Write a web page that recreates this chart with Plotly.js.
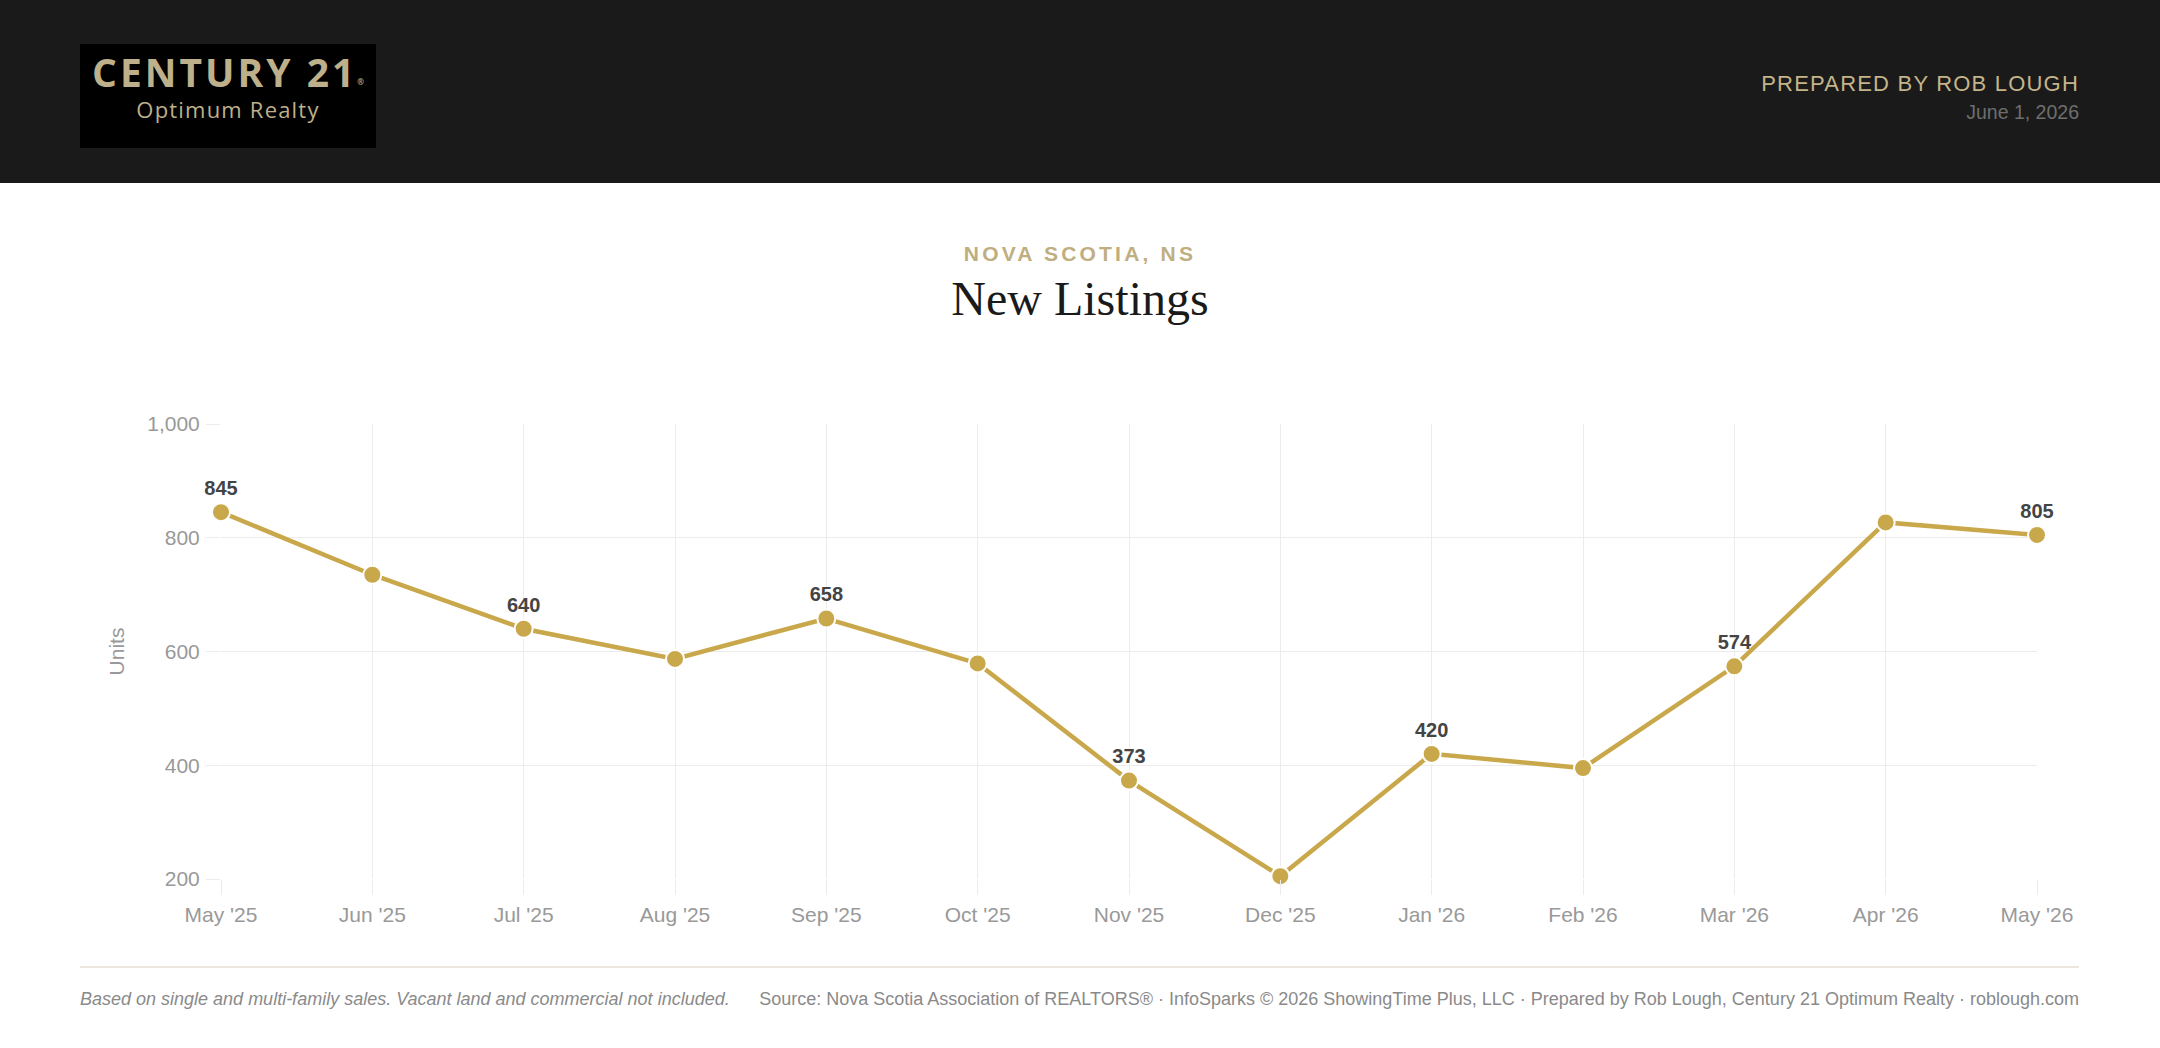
<!DOCTYPE html>
<html>
<head>
<meta charset="utf-8">
<script src="https://cdn.plot.ly/plotly-3.0.1.min.js"></script>
<style>
  html, body { margin: 0; padding: 0; width: 2160px; height: 1048px; overflow: hidden; background: #ffffff; font-family: "Liberation Sans", Arial, sans-serif; }
  #header { position: absolute; left: 0; top: 0; width: 2160px; height: 183px; background: #1a1a1a; }
  #logo { position: absolute; left: 80px; top: 44px; width: 296px; height: 104px; background: #000000; }
  #logo .c21 { position: absolute; left: 0; width: 296px; top: 3px; text-align: center; font-family: "Open Sans", sans-serif; font-weight: 700; font-size: 39px; letter-spacing: 3px; color: #bdb08a; line-height: 50px; }
  #logo .c21 sup { font-size: 8px; letter-spacing: 0; vertical-align: baseline; position: relative; top: -2px; }
  #logo .opt { position: absolute; left: 0; width: 296px; top: 51px; text-align: center; font-family: "Open Sans", sans-serif; font-weight: 400; font-size: 22px; letter-spacing: 1.2px; color: #bdb08a; line-height: 28px; }
  #prep { position: absolute; right: 81px; top: 71px; font-size: 22px; letter-spacing: 1.2px; color: #c4b48a; line-height: 26px; white-space: nowrap; }
  #date { position: absolute; right: 81px; top: 100px; font-size: 19.5px; color: #6e6e6e; line-height: 24px; white-space: nowrap; }
  #region { position: absolute; left: 0; width: 2160px; top: 241px; text-align: center; font-weight: 700; font-size: 21px; letter-spacing: 3.2px; color: #bfae80; line-height: 26px; }
  #title { position: absolute; left: 0; width: 2160px; top: 271px; text-align: center; font-family: "Liberation Serif", "DejaVu Serif", serif; font-size: 48px; color: #1a1a1a; line-height: 56px; }
  #rule { position: absolute; left: 80px; width: 1999px; top: 966px; height: 2px; background: #ebe7df; }
  #note { position: absolute; left: 80px; top: 987px; font-size: 18px; font-style: italic; color: #8a8a8a; white-space: nowrap; line-height: 24px; }
  #source { position: absolute; right: 81px; top: 987px; font-size: 18px; color: #8a8a8a; white-space: nowrap; line-height: 24px; }
  #chart { position: absolute; left: 0; top: 0; width: 2160px; height: 1048px; }
</style>
</head>
<body>
<div id="header">
  <div id="logo">
    <div class="c21">CENTURY 21<sup>®</sup></div>
    <div class="opt">Optimum Realty</div>
  </div>
  <div id="prep">PREPARED BY ROB LOUGH</div>
  <div id="date">June 1, 2026</div>
</div>
<div id="region">NOVA SCOTIA, NS</div>
<div id="title">New Listings</div>
<div id="rule"></div>
<div id="note">Based on single and multi-family sales. Vacant land and commercial not included.</div>
<div id="source">Source: Nova Scotia Association of REALTORS® · InfoSparks © 2026 ShowingTime Plus, LLC · Prepared by Rob Lough, Century 21 Optimum Realty · roblough.com</div>
<div id="chart"></div>
<script>
const months = ["May '25", "Jun '25", "Jul '25", "Aug '25", "Sep '25", "Oct '25", "Nov '25", "Dec '25", "Jan '26", "Feb '26", "Mar '26", "Apr '26", "May '26"];
const newListings = [845, 735, 640, 587, 658, 579, 373, 205, 420, 395, 574, 827, 805];
const labelled = [true, false, true, false, true, false, true, false, true, false, true, false, true];
const yTicks = [200, 400, 600, 800, 1000];

const gold = '#c9a84c';

const trace = {
  type: 'scatter',
  mode: 'lines+markers+text',
  x: months,
  y: newListings,
  text: newListings.map((v, i) => labelled[i] ? String(v) : ''),
  textposition: 'top center',
  textfont: { family: '"Liberation Sans", Arial, sans-serif', size: 20, color: '#444444', weight: 700 },
  line: { color: gold, width: 4.5 },
  marker: { color: gold, size: 18, line: { color: '#ffffff', width: 2 } },
  cliponaxis: false,
  hoverinfo: 'x+y'
};

const layout = {
  width: 2160,
  height: 1048,
  margin: { l: 221, r: 123, t: 424, b: 169, pad: 0 },
  paper_bgcolor: 'rgba(0,0,0,0)',
  plot_bgcolor: 'rgba(0,0,0,0)',
  showlegend: false,
  font: { family: '"Liberation Sans", Arial, sans-serif', color: '#999999' },
  xaxis: {
    type: 'category',
    range: [0, months.length - 1],
    showgrid: true,
    gridcolor: '#ececec',
    gridwidth: 1,
    zeroline: false,
    showline: false,
    ticks: 'outside',
    ticklen: 15,
    tickcolor: '#ececec',
    tickfont: { size: 21, color: '#999999' },
    ticklabelstandoff: 2,
    fixedrange: true
  },
  yaxis: {
    range: [200, 1000],
    tickvals: yTicks,
    tickformat: ',d',
    showgrid: true,
    gridcolor: '#ececec',
    gridwidth: 1,
    zeroline: false,
    showline: false,
    ticks: 'outside',
    ticklen: 14,
    tickcolor: '#ececec',
    tickfont: { size: 21, color: '#999999' },
    ticklabelstandoff: 2,
    title: { text: 'Units', font: { size: 21, color: '#999999' }, standoff: 16 },
    automargin: false,
    fixedrange: true
  }
};

Plotly.newPlot('chart', [trace], layout, { displayModeBar: false, staticPlot: true });
</script>
</body>
</html>
